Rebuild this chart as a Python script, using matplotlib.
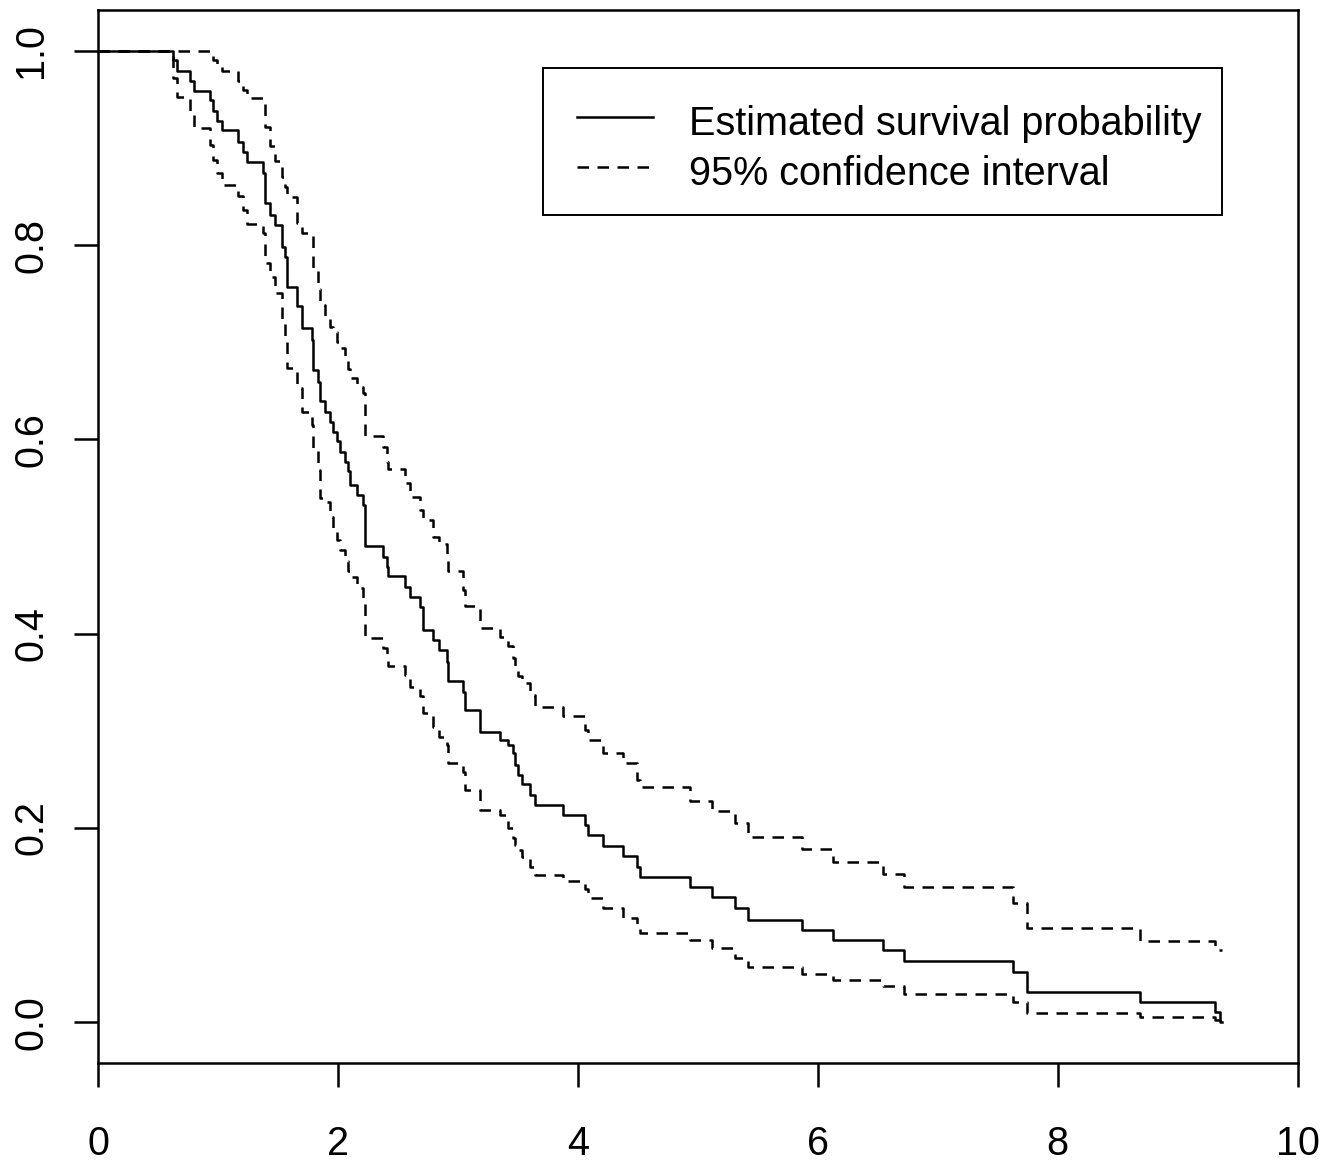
import numpy as np
import matplotlib
matplotlib.use("Agg")
import matplotlib.pyplot as plt
from matplotlib.lines import Line2D
from matplotlib.patches import Rectangle

plt.rcParams['font.family'] = ['Liberation Sans', 'DejaVu Sans']

# event times and the estimates after each event
event_times = [0.628, 0.661, 0.767, 0.800, 0.934, 0.959, 0.992, 1.034, 1.169, 1.209,
               1.242, 1.378, 1.392, 1.434, 1.475, 1.531, 1.559, 1.573, 1.656, 1.698,
               1.781, 1.795, 1.836, 1.850, 1.892, 1.934, 1.961, 1.990, 2.017, 2.059,
               2.086, 2.100, 2.156, 2.211, 2.225, 2.378, 2.406, 2.420, 2.559, 2.601,
               2.684, 2.712, 2.795, 2.842, 2.907, 2.920, 3.045, 3.059, 3.184, 3.351,
               3.418, 3.462, 3.476, 3.503, 3.532, 3.601, 3.643, 3.878, 4.059, 4.087,
               4.212, 4.379, 4.490, 4.517, 4.934, 5.115, 5.310, 5.420, 5.866, 6.129,
               6.546, 6.718, 7.627, 7.741, 8.685, 9.311, 9.353]
last_time = 9.369

surv = [0.990, 0.979, 0.969, 0.959, 0.949, 0.938, 0.928, 0.918, 0.906, 0.896,
        0.885, 0.874, 0.843, 0.831, 0.821, 0.798, 0.788, 0.757, 0.737, 0.715,
        0.702, 0.671, 0.659, 0.639, 0.628, 0.618, 0.608, 0.598, 0.587, 0.577,
        0.567, 0.553, 0.543, 0.532, 0.490, 0.479, 0.469, 0.459, 0.448, 0.438,
        0.427, 0.404, 0.393, 0.383, 0.371, 0.351, 0.340, 0.321, 0.299, 0.291,
        0.285, 0.277, 0.265, 0.255, 0.245, 0.234, 0.224, 0.213, 0.203, 0.193,
        0.181, 0.171, 0.160, 0.150, 0.139, 0.129, 0.118, 0.105, 0.095, 0.085,
        0.074, 0.063, 0.052, 0.031, 0.021, 0.011, 0.000]

upper = [1.000, 1.000, 1.000, 1.000, 1.000, 0.990, 0.985, 0.979, 0.969, 0.960,
         0.951, 0.945, 0.921, 0.902, 0.886, 0.870, 0.860, 0.849, 0.823, 0.812,
         0.810, 0.774, 0.755, 0.738, 0.726, 0.716, 0.711, 0.700, 0.694, 0.682,
         0.672, 0.663, 0.654, 0.648, 0.603, 0.592, 0.577, 0.570, 0.555, 0.541,
         0.527, 0.517, 0.500, 0.492, 0.480, 0.464, 0.445, 0.429, 0.406, 0.397,
         0.387, 0.375, 0.363, 0.356, 0.349, 0.337, 0.325, 0.315, 0.301, 0.291,
         0.277, 0.267, 0.249, 0.242, 0.228, 0.217, 0.205, 0.191, 0.178, 0.165,
         0.153, 0.139, 0.123, 0.097, 0.084, 0.074, 0.074]

lower = [0.972, 0.952, 0.937, 0.920, 0.903, 0.888, 0.874, 0.862, 0.850, 0.836,
         0.822, 0.812, 0.781, 0.767, 0.751, 0.722, 0.702, 0.673, 0.653, 0.628,
         0.615, 0.589, 0.568, 0.540, 0.536, 0.520, 0.509, 0.496, 0.486, 0.475,
         0.465, 0.458, 0.447, 0.437, 0.396, 0.385, 0.375, 0.367, 0.357, 0.345,
         0.336, 0.318, 0.304, 0.294, 0.285, 0.267, 0.258, 0.239, 0.219, 0.213,
         0.200, 0.190, 0.182, 0.177, 0.170, 0.160, 0.152, 0.145, 0.137, 0.128,
         0.118, 0.107, 0.100, 0.092, 0.085, 0.077, 0.066, 0.057, 0.050, 0.044,
         0.037, 0.029, 0.021, 0.010, 0.005, 0.002, 0.000]

x_ticks = [0, 2, 4, 6, 8, 10]
y_ticks = [0.0, 0.2, 0.4, 0.6, 0.8, 1.0]
y_tick_labels = ["0.0", "0.2", "0.4", "0.6", "0.8", "1.0"]
legend_labels = ["Estimated survival probability", "95% confidence interval"]

# step data: start at t=0 with 1.0, hold last value to the last time
t = np.concatenate([[0.0], event_times, [last_time]])
s = np.concatenate([[1.0], surv, [surv[-1]]])
up = np.concatenate([[1.0], upper, [upper[-1]]])
lo = np.concatenate([[1.0], lower, [lower[-1]]])

W, H = 1337, 1163
fig = plt.figure(figsize=(W / 100, H / 100), dpi=100)
ax = fig.add_axes([0.0733, 0.0862, 0.8973, 0.9052])

lw = 1.8
dash = (4.6, 3.4)
ax.step(t, s, where='post', color='black', lw=lw, label=legend_labels[0])
ax.step(t, up, where='post', color='black', lw=lw, dashes=dash, label=legend_labels[1])
ax.step(t, lo, where='post', color='black', lw=lw, dashes=dash)

ax.set_xlim(0, 10)
ax.set_ylim(-0.0416, 1.0419)

ax.set_xticks(x_ticks)
ax.set_xticklabels([str(v) for v in x_ticks])
ax.set_yticks(y_ticks)
ax.set_yticklabels(y_tick_labels, rotation=90, va='center')

ax.tick_params(axis='both', direction='out', length=17, width=1.8,
               labelsize=28.5, colors='black')
ax.tick_params(axis='x', pad=28)
ax.tick_params(axis='y', pad=17.5)

for sp in ax.spines.values():
    sp.set_linewidth(1.8)
    sp.set_color('black')

# R-style legend box, placed in pixel units (top-left origin)
def fx(px):
    return px / W

def fy(py):
    return 1 - py / H

fig.add_artist(Rectangle((fx(543), fy(215)), fx(1221.5) - fx(543), fy(68.3) - fy(215),
                         transform=fig.transFigure, fill=False, ec='black', lw=1.4))
fig.add_artist(Line2D([fx(577), fx(653)], [fy(117.3), fy(117.3)],
                      transform=fig.transFigure, color='black', lw=lw))
fig.add_artist(Line2D([fx(577), fx(653)], [fy(167.3), fy(167.3)],
                      transform=fig.transFigure, color='black', lw=lw, dashes=dash))
fig.text(fx(689), fy(135), legend_labels[0], fontsize=28.5, va='baseline', ha='left')
fig.text(fx(689), fy(185), legend_labels[1], fontsize=28.5, va='baseline', ha='left')

fig.savefig("out.png", dpi=100, facecolor='white')
